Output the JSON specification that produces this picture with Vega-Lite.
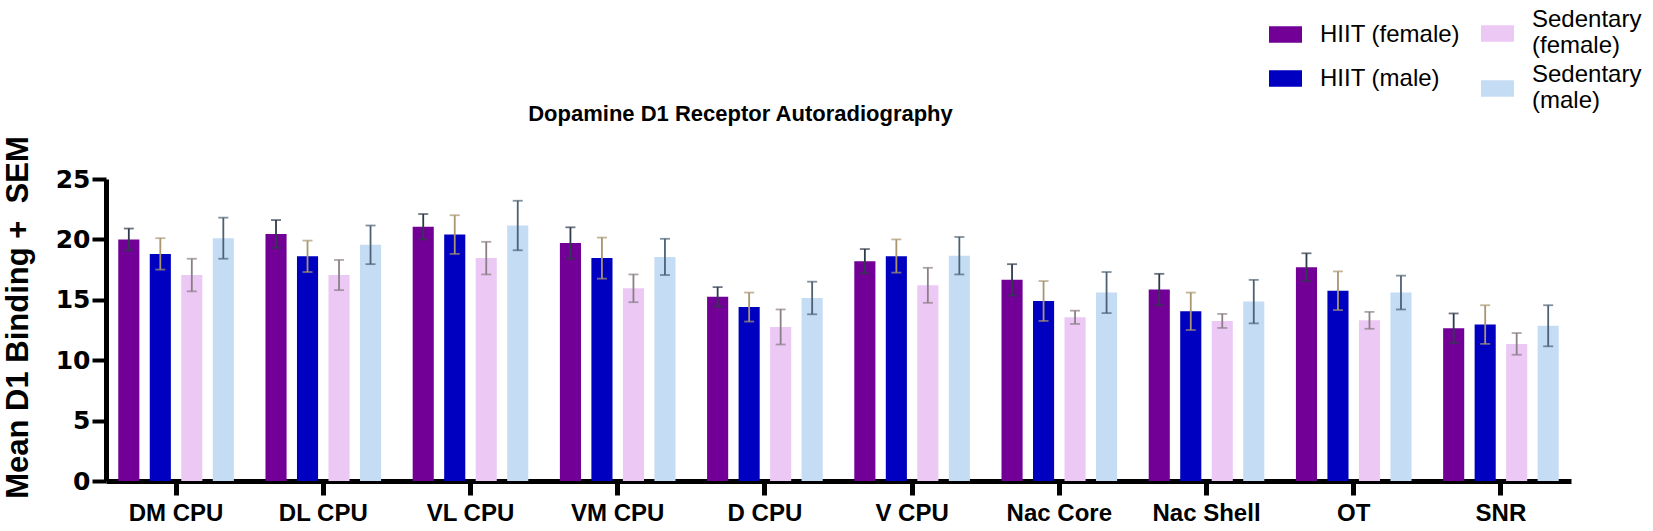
{
  "$schema": "https://vega.github.io/schema/vega-lite/v6.json",
  "description": "Dopamine D1 receptor autoradiography, mean binding + SEM by region and group",
  "autosize": {"type": "none"},
  "padding": {"left": 106, "top": 179, "right": 82, "bottom": 50},
  "width": 1465,
  "height": 302,
  "title": {
    "text": "Dopamine D1 Receptor Autoradiography",
    "font": "Liberation Sans",
    "fontSize": 22,
    "fontWeight": "bold",
    "color": "#000000",
    "anchor": "middle",
    "baseline": "alphabetic",
    "dx": -98,
    "offset": -140
  },
  "data": {
    "values": [
      {"region": "DM CPU", "group": "HIIT (female)", "mean": 20.0, "lo": 19.1, "hi": 20.9},
      {"region": "DM CPU", "group": "HIIT (male)", "mean": 18.8, "lo": 17.5, "hi": 20.1},
      {"region": "DM CPU", "group": "Sedentary (female)", "mean": 17.05, "lo": 15.7, "hi": 18.4},
      {"region": "DM CPU", "group": "Sedentary (male)", "mean": 20.1, "lo": 18.4, "hi": 21.8},
      {"region": "DL CPU", "group": "HIIT (female)", "mean": 20.45, "lo": 19.3, "hi": 21.6},
      {"region": "DL CPU", "group": "HIIT (male)", "mean": 18.6, "lo": 17.3, "hi": 19.9},
      {"region": "DL CPU", "group": "Sedentary (female)", "mean": 17.05, "lo": 15.8, "hi": 18.3},
      {"region": "DL CPU", "group": "Sedentary (male)", "mean": 19.55, "lo": 17.95, "hi": 21.15},
      {"region": "VL CPU", "group": "HIIT (female)", "mean": 21.05, "lo": 20.0, "hi": 22.1},
      {"region": "VL CPU", "group": "HIIT (male)", "mean": 20.4, "lo": 18.8, "hi": 22.0},
      {"region": "VL CPU", "group": "Sedentary (female)", "mean": 18.45, "lo": 17.1, "hi": 19.8},
      {"region": "VL CPU", "group": "Sedentary (male)", "mean": 21.15, "lo": 19.1, "hi": 23.2},
      {"region": "VM CPU", "group": "HIIT (female)", "mean": 19.7, "lo": 18.4, "hi": 21.0},
      {"region": "VM CPU", "group": "HIIT (male)", "mean": 18.45, "lo": 16.75, "hi": 20.15},
      {"region": "VM CPU", "group": "Sedentary (female)", "mean": 15.95, "lo": 14.8, "hi": 17.1},
      {"region": "VM CPU", "group": "Sedentary (male)", "mean": 18.55, "lo": 17.05, "hi": 20.05},
      {"region": "D CPU", "group": "HIIT (female)", "mean": 15.25, "lo": 14.45, "hi": 16.05},
      {"region": "D CPU", "group": "HIIT (male)", "mean": 14.4, "lo": 13.2, "hi": 15.6},
      {"region": "D CPU", "group": "Sedentary (female)", "mean": 12.75, "lo": 11.3, "hi": 14.2},
      {"region": "D CPU", "group": "Sedentary (male)", "mean": 15.15, "lo": 13.8, "hi": 16.5},
      {"region": "V CPU", "group": "HIIT (female)", "mean": 18.2, "lo": 17.2, "hi": 19.2},
      {"region": "V CPU", "group": "HIIT (male)", "mean": 18.6, "lo": 17.25, "hi": 20.0},
      {"region": "V CPU", "group": "Sedentary (female)", "mean": 16.2, "lo": 14.75, "hi": 17.65},
      {"region": "V CPU", "group": "Sedentary (male)", "mean": 18.65, "lo": 17.1, "hi": 20.2},
      {"region": "Nac Core", "group": "HIIT (female)", "mean": 16.65, "lo": 15.35, "hi": 17.95},
      {"region": "Nac Core", "group": "HIIT (male)", "mean": 14.9, "lo": 13.25, "hi": 16.55},
      {"region": "Nac Core", "group": "Sedentary (female)", "mean": 13.55, "lo": 13.0, "hi": 14.1},
      {"region": "Nac Core", "group": "Sedentary (male)", "mean": 15.6, "lo": 13.9, "hi": 17.3},
      {"region": "Nac Shell", "group": "HIIT (female)", "mean": 15.85, "lo": 14.55, "hi": 17.15},
      {"region": "Nac Shell", "group": "HIIT (male)", "mean": 14.05, "lo": 12.5, "hi": 15.6},
      {"region": "Nac Shell", "group": "Sedentary (female)", "mean": 13.25, "lo": 12.67, "hi": 13.83},
      {"region": "Nac Shell", "group": "Sedentary (male)", "mean": 14.85, "lo": 13.05, "hi": 16.65},
      {"region": "OT", "group": "HIIT (female)", "mean": 17.7, "lo": 16.55, "hi": 18.85},
      {"region": "OT", "group": "HIIT (male)", "mean": 15.75, "lo": 14.15, "hi": 17.35},
      {"region": "OT", "group": "Sedentary (female)", "mean": 13.3, "lo": 12.6, "hi": 14.0},
      {"region": "OT", "group": "Sedentary (male)", "mean": 15.6, "lo": 14.2, "hi": 17.0},
      {"region": "SNR", "group": "HIIT (female)", "mean": 12.65, "lo": 11.43, "hi": 13.87},
      {"region": "SNR", "group": "HIIT (male)", "mean": 12.95, "lo": 11.35, "hi": 14.55},
      {"region": "SNR", "group": "Sedentary (female)", "mean": 11.35, "lo": 10.45, "hi": 12.25},
      {"region": "SNR", "group": "Sedentary (male)", "mean": 12.85, "lo": 11.15, "hi": 14.55}
    ]
  },
  "encoding": {
    "x": {
      "field": "region",
      "type": "nominal",
      "sort": null,
      "scale": {"paddingInner": 0.144, "paddingOuter": 0.048},
      "axis": {
        "title": null,
        "labelAngle": 0,
        "labelFont": "Liberation Sans",
        "labelFontSize": 24,
        "labelFontWeight": "bold",
        "labelColor": "#000000",
        "labelPadding": 6,
        "domainColor": "#000000",
        "domainWidth": 5,
        "tickColor": "#000000",
        "tickWidth": 5,
        "tickSize": 14
      }
    },
    "xOffset": {
      "field": "group",
      "type": "nominal",
      "scale": {
        "domain": ["HIIT (female)", "HIIT (male)", "Sedentary (female)", "Sedentary (male)"],
        "paddingInner": 0.33,
        "paddingOuter": 0.165
      }
    },
    "y": {
      "field": "mean",
      "type": "quantitative",
      "scale": {"domain": [0, 25], "nice": false},
      "axis": {
        "title": "Mean D1 Binding + \u00a0SEM",
        "titleFont": "Liberation Sans",
        "titleFontSize": 31,
        "titleFontWeight": "bold",
        "titleColor": "#000000",
        "titlePadding": 21,
        "titleY": 138,
        "values": [0, 5, 10, 15, 20, 25],
        "grid": false,
        "labelFont": "DejaVu Sans",
        "labelFontSize": 25,
        "labelFontWeight": "bold",
        "labelColor": "#000000",
        "labelPadding": 2,
        "domainColor": "#000000",
        "domainWidth": 5,
        "tickColor": "#000000",
        "tickWidth": 4,
        "tickSize": 14
      }
    }
  },
  "layer": [
    {
      "transform": [{"filter": "indexof(datum.group, 'HIIT') == 0"}],
      "mark": {"type": "bar", "strokeWidth": 0},
      "encoding": {
        "color": {
          "field": "group",
          "type": "nominal",
          "scale": {
            "domain": ["HIIT (female)", "HIIT (male)"],
            "range": ["#720096", "#0000c0"]
          },
          "legend": {
            "title": null,
            "orient": "none",
            "legendX": 1163,
            "legendY": -161,
            "rowPadding": 15,
            "symbolType": "M-1,-0.5H1V0.5H-1Z",
            "symbolSize": 1089,
            "symbolStrokeWidth": 0,
            "symbolOpacity": 1,
            "labelFont": "Liberation Sans",
            "labelFontSize": 24,
            "labelColor": "#000000",
            "labelOffset": 18,
            "labelLimit": 400
          }
        }
      }
    },
    {
      "transform": [{"filter": "indexof(datum.group, 'Sedentary') == 0"}],
      "mark": {"type": "bar", "strokeWidth": 0},
      "encoding": {
        "fill": {
          "field": "group",
          "type": "nominal",
          "scale": {
            "domain": ["Sedentary (female)", "Sedentary (male)"],
            "range": ["#ecc8f5", "#c5dcf5"]
          },
          "legend": {
            "title": null,
            "orient": "none",
            "legendX": 1375,
            "legendY": -176,
            "rowPadding": 0,
            "symbolType": "M-1,0.35H1V1.35H-1Z",
            "symbolSize": 1089,
            "symbolStrokeWidth": 0,
            "symbolOpacity": 1,
            "labelFont": "Liberation Sans",
            "labelFontSize": 24,
            "labelColor": "#000000",
            "labelOffset": 18,
            "labelLimit": 400,
            "labelExpr": "split(datum.label, ' ')"
          }
        }
      }
    },
    {
      "mark": {"type": "rule", "strokeWidth": 1.8},
      "encoding": {
        "y": {"field": "lo", "type": "quantitative"},
        "y2": {"field": "hi"},
        "stroke": {
          "field": "group",
          "type": "nominal",
          "scale": {
            "domain": ["HIIT (female)", "HIIT (male)", "Sedentary (female)", "Sedentary (male)"],
            "range": ["#2f3a4c", "#a8966f", "#8a7f86", "#4c6274"]
          },
          "legend": null
        }
      }
    },
    {
      "mark": {"type": "tick", "size": 10, "thickness": 1.8},
      "encoding": {
        "y": {"field": "hi", "type": "quantitative"},
        "fill": {
          "field": "group",
          "type": "nominal",
          "scale": {
            "domain": ["HIIT (female)", "HIIT (male)", "Sedentary (female)", "Sedentary (male)"],
            "range": ["#2f3a4c", "#a8966f", "#8a7f86", "#4c6274"]
          },
          "legend": null
        }
      }
    },
    {
      "mark": {"type": "tick", "size": 10, "thickness": 1.8},
      "encoding": {
        "y": {"field": "lo", "type": "quantitative"},
        "fill": {
          "field": "group",
          "type": "nominal",
          "scale": {
            "domain": ["HIIT (female)", "HIIT (male)", "Sedentary (female)", "Sedentary (male)"],
            "range": ["#2f3a4c", "#a8966f", "#8a7f86", "#4c6274"]
          },
          "legend": null
        }
      }
    }
  ],
  "resolve": {"scale": {"fill": "independent"}},
  "config": {
    "view": {"stroke": null},
    "font": "Liberation Sans"
  }
}
